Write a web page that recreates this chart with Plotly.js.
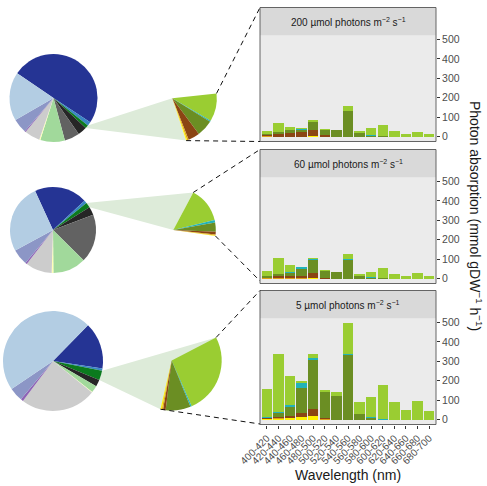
<!DOCTYPE html>
<html><head><meta charset="utf-8">
<script src="https://cdn.plot.ly/plotly-3.0.1.min.js"></script>
<style>html,body{margin:0;padding:0;background:#fff}#chart{width:487px;height:486px}</style>
</head><body><div id="chart"></div>
<script>
// ---------- DATA ----------
const wavelengthBins = ['400-420','420-440','440-460','460-480','480-500','500-520','520-540','540-560','560-580','580-600','600-620','620-640','640-660','660-680','680-700'];
const panelLabels = ['200 µmol photons m<sup>−2</sup> s<sup>−1</sup>','60 µmol photons m<sup>−2</sup> s<sup>−1</sup>','5 µmol photons m<sup>−2</sup> s<sup>−1</sup>'];
const barSeriesNames = ['Yellow pigment','Orange pigment','Brown pigment','Olive pigment','Teal pigment','Light green pigment'];
const barColors = ['#FFF200','#DDA11A','#8B4513','#6B8E23','#22B3B8','#9ACD32'];

// 200 umol photons (segment heights, stacked bottom -> top)
const yellow200 = [0,0,0,0,1,0,0,0,0,0,0,0,0,0,0];
const orange200 = [2,0,0,0,4,0,0,0,0,0,0,0,0,0,0];
const brown200  = [8,14,19,22,31,10,0,0,0,0,0,0,0,0,0];
const olive200  = [2,11,14,14,41,24,34,134,19,5,4,0,0,0,0];
const teal200   = [0,0,0,4,0,0,0,0,0,4,0,0,0,0,0];
const green200  = [16,45,19,6,7,4,2,22,12,34,58,31,14,22,12];
// 60 umol photons
const yellow60 = [0,0,0,0,5,0,0,0,0,0,0,0,0,0,0];
const orange60 = [2,4,2,2,0,0,0,0,0,0,0,0,0,0,0];
const brown60  = [3,10,13,13,26,5,0,0,0,0,0,0,0,0,0];
const olive60  = [7,8,16,33,67,35,34,98,14,5,2,0,0,0,0];
const teal60   = [0,4,5,10,4,0,0,3,0,2,0,0,0,0,0];
const green60  = [28,82,36,4,3,3,0,28,8,26,55,26,14,31,14];
// 5 umol photons
const yellow5 = [2,3,7,12,19,0,0,0,0,0,0,0,0,0,0];
const orange5 = [1,4,0,0,0,2,0,0,0,0,0,0,0,0,0];
const brown5  = [3,8,10,24,38,8,0,0,0,0,0,0,0,0,0];
const olive5  = [4,19,47,126,248,130,122,331,28,7,0,0,0,0,0];
const teal5   = [5,6,10,26,12,0,0,7,0,5,3,0,0,0,0];
const green5  = [145,298,152,12,21,12,19,160,63,102,175,91,48,97,45];

// Pie (whole cell) components, in degrees of the circle
const pieLabels = ['Comp A','Comp B','Comp C','Comp D','Comp E','Comp F','Comp G','Comp H','Comp I','Comp J','Comp K'];
const pieColors = ['#253494','#3A86C4','#0B7A1E','#262626','#626262','#A1D99B','#FFFFB8','#CCCCCC','#8E63B5','#8C96C6','#B3CDE3'];
const pie200 = [179.1,5.2,4.4,12,20,32.4,1.5,20.5,1.5,19,64.4];
const pie60  = [71.6,4,7,11.3,65.4,44.8,2.3,35.8,2.4,21.6,93.8];
const pie5   = [54.2,2.6,11.1,7.9,0,8.2,0.5,88.1,3,16,168.4];

// Zoomed wedge (breakdown of the green component), degrees
const wedgeLabels = ['Light green','Teal','Olive','Brown','Orange','Yellow'];
const wedgeColors = ['#9ACD32','#22B3B8','#6B8E23','#8B4513','#DDA11A','#FFF200'];
const wedge200 = [36.7,1.5,21.5,15,2,1.5];
const wedge60  = [48.5,3.5,12.3,3.7,1.5,0.5];
const wedge5   = [93.9,1.5,29,3,1.5,1.5];

// ---------- LAYOUT GEOMETRY (pixels) ----------
const W = 487, H = 486;
const px = x => x / W, py = y => 1 - y / H;
const panelX0 = 260, panelX1 = 436;
const frameTops = [7.5, 149.5, 290.5];
const stripH = 28, plotH = 106;

const leftPies = [
  {vals: pie200, cx: 53.5, cy: 98, r: 44, rot: -55.7},
  {vals: pie60,  cx: 53,   cy: 230, r: 43, rot: -24.6},
  {vals: pie5,   cx: 53,   cy: 361, r: 50, rot: 44.4}
];
const wedges = [
  {vals: wedge200, cx: 172.3, cy: 98.3, r: 44.5, start: 6.3},
  {vals: wedge60,  cx: 173.3, cy: 230,  r: 42.5, start: 62},
  {vals: wedge5,   cx: 171.7, cy: 360.5, r: 50,  start: 27.4}
];

const panelSeries = [
  [yellow200, orange200, brown200, olive200, teal200, green200],
  [yellow60, orange60, brown60, olive60, teal60, green60],
  [yellow5, orange5, brown5, olive5, teal5, green5]
];

const traces = [];
const shapes = [];
const annotations = [];
const layout = {
  width: W, height: H,
  margin: {l: 0, r: 0, t: 0, b: 0},
  paper_bgcolor: '#ffffff', plot_bgcolor: '#EBEBEB',
  showlegend: false, barmode: 'stack', bargap: 0.1,
  font: {family: 'Liberation Sans, Arial, sans-serif', color: '#1a1a1a'}
};

panelSeries.forEach((series, p) => {
  const xa = p === 0 ? 'x' : 'x' + (p + 1);
  const ya = p === 0 ? 'y' : 'y' + (p + 1);
  series.forEach((vals, s) => {
    traces.push({type: 'bar', x: wavelengthBins, y: vals, name: barSeriesNames[s],
      xaxis: xa, yaxis: ya, marker: {color: barColors[s], line: {width: 0}},
      hovertemplate: '%{x}: %{y}<extra>' + barSeriesNames[s] + '</extra>'});
  });
  const top = frameTops[p];
  const plotTop = top + stripH, plotBot = plotTop + plotH;
  const isBottom = p === 2;
  const xaxis = {
    domain: [px(panelX0), px(panelX1)], anchor: ya, type: 'category',
    range: [-0.6, 14.6], showgrid: false, zeroline: false, showline: false,
    showticklabels: isBottom, ticks: isBottom ? 'outside' : '', ticklen: 3, tickwidth: 1,
    tickcolor: '#333', tickangle: -45, tickfont: {size: 10, color: '#4d4d4d'},
    tickmode: 'array', tickvals: wavelengthBins, ticktext: wavelengthBins
  };
  if (!isBottom) { xaxis.tickmode = 'auto'; delete xaxis.tickvals; delete xaxis.ticktext; }
  layout[p === 0 ? 'xaxis' : 'xaxis' + (p + 1)] = xaxis;
  layout[p === 0 ? 'yaxis' : 'yaxis' + (p + 1)] = {
    domain: [py(plotBot), py(plotTop)], anchor: xa, side: 'right',
    range: [-25, 520], tickvals: [0, 100, 200, 300, 400, 500],
    showgrid: false, zeroline: false, showline: false,
    ticks: 'outside', ticklen: 3, tickwidth: 1, tickcolor: '#333',
    tickfont: {size: 10.5, color: '#4d4d4d'}
  };
  shapes.push({type: 'rect', xref: 'paper', yref: 'paper', x0: px(panelX0), x1: px(panelX1),
    y0: py(plotTop), y1: py(top), fillcolor: '#D9D9D9', line: {width: 0}, layer: 'below'});
  shapes.push({type: 'rect', xref: 'paper', yref: 'paper', x0: px(panelX0), x1: px(panelX1),
    y0: py(plotBot), y1: py(top), fillcolor: 'rgba(0,0,0,0)', line: {width: 0.9, color: '#555'}, layer: 'above'});
  annotations.push({xref: 'paper', yref: 'paper', x: px((panelX0 + panelX1) / 2), y: py(top + stripH / 2 + 0.5),
    text: panelLabels[p], showarrow: false, xanchor: 'center', yanchor: 'middle',
    font: {size: 10, color: '#1a1a1a'}});
});

leftPies.forEach(pc => {
  traces.push({type: 'pie', labels: pieLabels, values: pc.vals, sort: false, direction: 'clockwise',
    rotation: pc.rot, textinfo: 'none', marker: {colors: pieColors, line: {width: 0}},
    domain: {x: [px(pc.cx - pc.r), px(pc.cx + pc.r)], y: [py(pc.cy + pc.r), py(pc.cy - pc.r)]}});
});

wedges.forEach(wg => {
  const total = wg.vals.reduce((a, b) => a + b, 0);
  traces.push({type: 'pie', labels: wedgeLabels.concat(['rest']), values: wg.vals.concat([360 - total]),
    sort: false, direction: 'clockwise', rotation: 90 - wg.start, textinfo: 'none',
    marker: {colors: wedgeColors.concat(['rgba(0,0,0,0)']), line: {width: 0}},
    domain: {x: [px(wg.cx - wg.r), px(wg.cx + wg.r)], y: [py(wg.cy + wg.r), py(wg.cy - wg.r)]}});
});

function polar(cx, cy, r, deg) { const a = deg * Math.PI / 180; return [cx + r * Math.cos(a), cy - r * Math.sin(a)]; }
function pathOf(pts) { return 'M ' + pts.map(q => px(q[0]) + ',' + py(q[1])).join(' L ') + ' Z'; }
const greenArc = [[-38.6, -43], [39, 32], [-11.2, -22.3]];
wedges.forEach((wg, i) => {
  const lp = leftPies[i];
  const a1 = polar(lp.cx, lp.cy, lp.r, greenArc[i][0]);
  const a2 = polar(lp.cx, lp.cy, lp.r, greenArc[i][1]);
  const total = wg.vals.reduce((a, b) => a + b, 0);
  const s = polar(wg.cx, wg.cy, wg.r, wg.start);
  const e = polar(wg.cx, wg.cy, wg.r, wg.start - total);
  const v = [wg.cx, wg.cy];
  let pts;
  if (i === 0) pts = [a1, v, e, a2];
  else pts = [a1, s, (i === 1 ? v : e), a2];
  shapes.push({type: 'path', xref: 'paper', yref: 'paper', path: pathOf(pts),
    fillcolor: '#DDEBD9', line: {width: 0}, layer: 'below'});
  const top = frameTops[i];
  const endBot = [[260, 141.5], [260, 281], [260, 424]][i];
  [[s, [panelX0, top]], [e, endBot]].forEach(seg => {
    shapes.push({type: 'line', xref: 'paper', yref: 'paper',
      x0: px(seg[0][0]), y0: py(seg[0][1]), x1: px(seg[1][0]), y1: py(seg[1][1]),
      line: {color: '#111', width: 1, dash: '5px,4px'}, layer: 'above'});
  });
});

annotations.push({xref: 'paper', yref: 'paper', x: px(348), y: py(474.5), text: 'Wavelength (nm)',
  showarrow: false, xanchor: 'center', yanchor: 'middle', font: {size: 14, color: '#1a1a1a'}});
annotations.push({xref: 'paper', yref: 'paper', x: px(476), y: py(216),
  text: 'Photon absorption (mmol gDW<sup>−1</sup> h<sup>−1</sup>)', textangle: 90,
  showarrow: false, xanchor: 'center', yanchor: 'middle', font: {size: 14, color: '#1a1a1a'}});

layout.shapes = shapes;
layout.annotations = annotations;
Plotly.newPlot('chart', traces, layout, {displayModeBar: false, staticPlot: true});
</script></body></html>
